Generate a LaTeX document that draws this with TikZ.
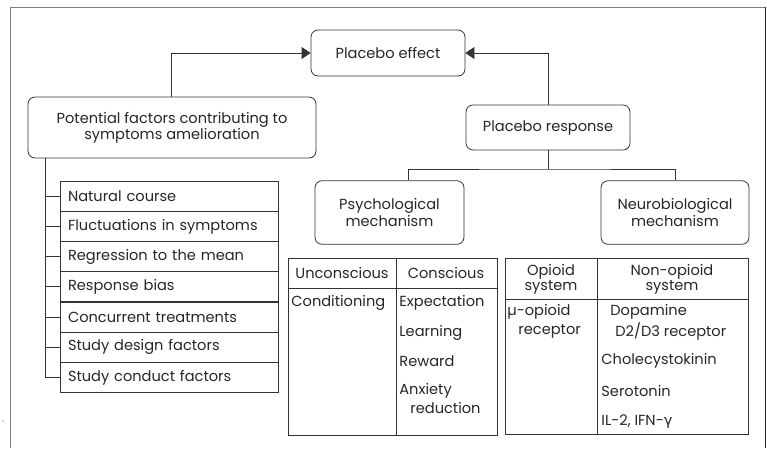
\documentclass[tikz,border=0pt]{standalone}
\usepackage{fontspec}
\setmainfont{Poppins}
\newfontfamily\grk{DejaVu Sans}
\usetikzlibrary{arrows.meta}
\begin{document}
\begin{tikzpicture}[x=1pt, y=-1pt, line width=0.8pt,
  every node/.style={font=\fontsize{14.6}{15}\selectfont, text=black!85},
  rbox/.style={draw=black!80, rounded corners=7pt, align=center, inner sep=0pt},
  item/.style={draw=black!80, minimum height=30.2pt, text width=202pt, inner xsep=8pt, inner ysep=0pt, align=left},
  cell/.style={inner sep=0pt, anchor=west},
  conn/.style={draw=black!80}]
  \useasboundingbox (0,0) rectangle (767,448);
  % frame
  \draw[gray] (10,448) |- (765,7);
  \draw[black!85] (765,7) -- (765,448);
  \fill[black!70] (3,421) circle (0.7pt);
  % top boxes
  \node[rbox, minimum width=154pt, minimum height=46pt] (eff) at (388,53) {Placebo effect};
  \node[rbox, minimum width=288pt, minimum height=61pt] (pot) at (172,127.5) {Potential factors contributing to\\symptoms amelioration};
  \node[rbox, minimum width=164pt, minimum height=45pt] (resp) at (548,127.5) {Placebo response};
  \node[rbox, minimum width=149pt, minimum height=63.5pt] (psy) at (389.5,212.5) {Psychological\\mechanism};
  \node[rbox, minimum width=148pt, minimum height=63.5pt] (neu) at (675,212.5) {Neurobiological\\mechanism};
  \draw[conn, -{Triangle[length=9pt,width=12pt]}] ([xshift=-1pt]pot.north) |- (eff.west);
  \draw[conn, -{Triangle[length=9pt,width=12pt]}] (resp.north) |- (eff.east);
  \draw[conn] (resp.south) -- (resp.south |- 0,169) coordinate (fork);
  \draw[conn] ([xshift=18.5pt]psy.north) |- (fork) -| (neu.north);
  % factor list
  \foreach \t [count=\i] in {Natural course, Fluctuations in symptoms, Regression to the mean,
      Response bias, Concurrent treatments, Study design factors, Study conduct factors} {
    \node[item] (f\i) at (169,196.3+30.17*\i-30.17) {\t};
    \draw[conn] (f\i.west -| 45,0) -- (f\i.west);
  }
  \draw[conn] (pot.south -| 45,0) -- (f7.west -| 45,0);
  % psychological table
  \draw[black!80] (288,258) rectangle (497,435);
  \draw[black!80] (288,288) -- (497,288) (396,258) -- (396,435);
  \node (unc) at (342,273) {Unconscious};
  \node (con) at (446,273) {Conscious};
  \node[cell] (cond) at (291,302.5) {Conditioning};
  \node[cell] (expc) at (399,302.5) {Expectation};
  \node[cell] (lrn) at (399,332.5) {Learning};
  \node[cell] (rew) at (399,361.5) {Reward};
  \node[cell] (anx) at (399,390.5) {Anxiety};
  \node[cell] (red) at (410,408) {reduction};
  % neurobiological table
  \draw[black!80] (505,258) rectangle (748,434);
  \draw[black!80] (505,299) -- (748,299) (597,258) -- (597,434);
  \node[align=center] (opi) at (551,279) {Opioid\\system};
  \node[align=center] (nop) at (672,279) {Non-opioid\\system};
  \node[cell] (mu) at (507,311.5) {µ-opioid};
  \node[cell] (murec) at (518,331.5) {receptor};
  \node[cell] (dop) at (610,311.5) {Dopamine};
  \node[cell] (drec) at (615,331.5) {D2/D3 receptor};
  \node[cell] (cck) at (601,360.5) {Cholecystokinin};
  \node[cell] (ser) at (601,390.5) {Serotonin};
  \node[cell] (il) at (601,421.5) {IL-2, IFN-{\grk γ}};
\end{tikzpicture}
\end{document}
